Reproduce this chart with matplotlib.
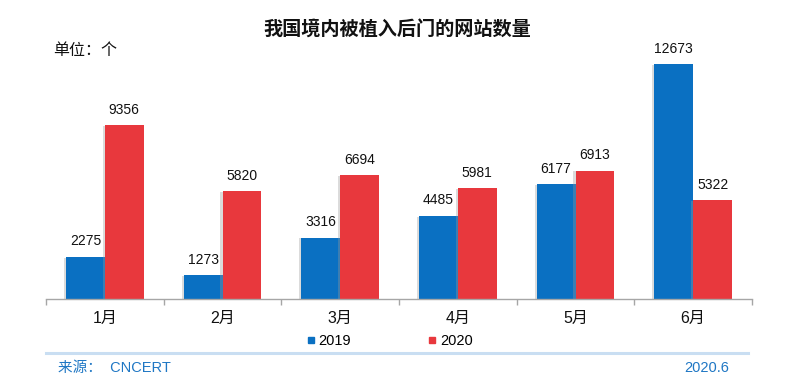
import matplotlib
matplotlib.use('Agg')
import matplotlib.pyplot as plt
import matplotlib.patheffects as pe
from matplotlib.lines import Line2D
import numpy as np

plt.rcParams['font.family'] = ['Liberation Sans', 'Noto Sans CJK SC', 'DejaVu Sans']

# 数据
months = ['1月', '2月', '3月', '4月', '5月', '6月']
series_names = ['2019', '2020']
values_2019 = [2275, 1273, 3316, 4485, 6177, 12673]
values_2020 = [9356, 5820, 6694, 5981, 6913, 5322]

BLUE = '#0A70C2'
RED = '#E8383D'

fig = plt.figure(figsize=(8, 3.91), dpi=100)
ax = fig.add_axes([0.0575, 0.2353, 0.8825, 0.664])

x = np.arange(len(months))
w = 0.33
shadow = [pe.SimplePatchShadow(offset=(-1.5, -0.5), shadow_rgbFace='#999999', alpha=0.35), pe.Normal()]
b1 = ax.bar(x - w / 2, values_2019, w, color=BLUE, path_effects=shadow, zorder=2)
b2 = ax.bar(x + w / 2, values_2020, w, color=RED, path_effects=shadow, zorder=2)

for bars, vals in ((b1, values_2019), (b2, values_2020)):
    for rect, v in zip(bars, vals):
        ax.annotate(str(v), xy=(rect.get_x() + rect.get_width() / 2, v),
                    xytext=(0, 6), textcoords='offset points',
                    ha='center', va='bottom', fontsize=10, color='#111111')

ax.set_xlim(-0.5, len(months) - 0.5)
ax.set_ylim(0, 14000)
for s in ('top', 'right', 'left'):
    ax.spines[s].set_visible(False)
ax.spines['bottom'].set_color('#A6A6A6')
ax.spines['bottom'].set_linewidth(1)
ax.set_yticks([])

# 组间刻度
ax.set_xticks(np.arange(len(months) + 1) - 0.5, minor=False)
ax.set_xticklabels([])
ax.tick_params(axis='x', direction='out', length=4, color='#A6A6A6', width=1)
for i, m in enumerate(months):
    ax.text(i, -0.075, m, transform=ax.get_xaxis_transform(), ha='center', va='center',
            fontsize=11.5, color='#111111')

# 标题与单位
fig.text(0.496, 0.922, '我国境内被植入后门的网站数量', ha='center', va='center',
         fontsize=13.8, fontweight='bold', color='#111111')
fig.text(0.066, 0.872, '单位：个', ha='left', va='center', fontsize=11.5, color='#111111')

# 图例
handles = [Line2D([], [], marker='s', linestyle='', color=BLUE, markersize=5),
           Line2D([], [], marker='s', linestyle='', color=RED, markersize=5)]
fig.legend(handles, series_names, loc='center', bbox_to_anchor=(0.486, 0.128), ncol=2,
           frameon=False, fontsize=10.5, handletextpad=0.1, columnspacing=5.2,
           handlelength=0.8)

# 分隔线和来源
fig.add_artist(Line2D([0.0575, 0.935], [0.097, 0.097], color='#C9DEF2', linewidth=2.2))
fig.text(0.072, 0.059, '来源：  CNCERT', ha='left', va='center', fontsize=10.5, color='#1F77C4')
fig.text(0.912, 0.059, '2020.6', ha='right', va='center', fontsize=10.5, color='#1F77C4')

fig.savefig('out.png', dpi=100)
